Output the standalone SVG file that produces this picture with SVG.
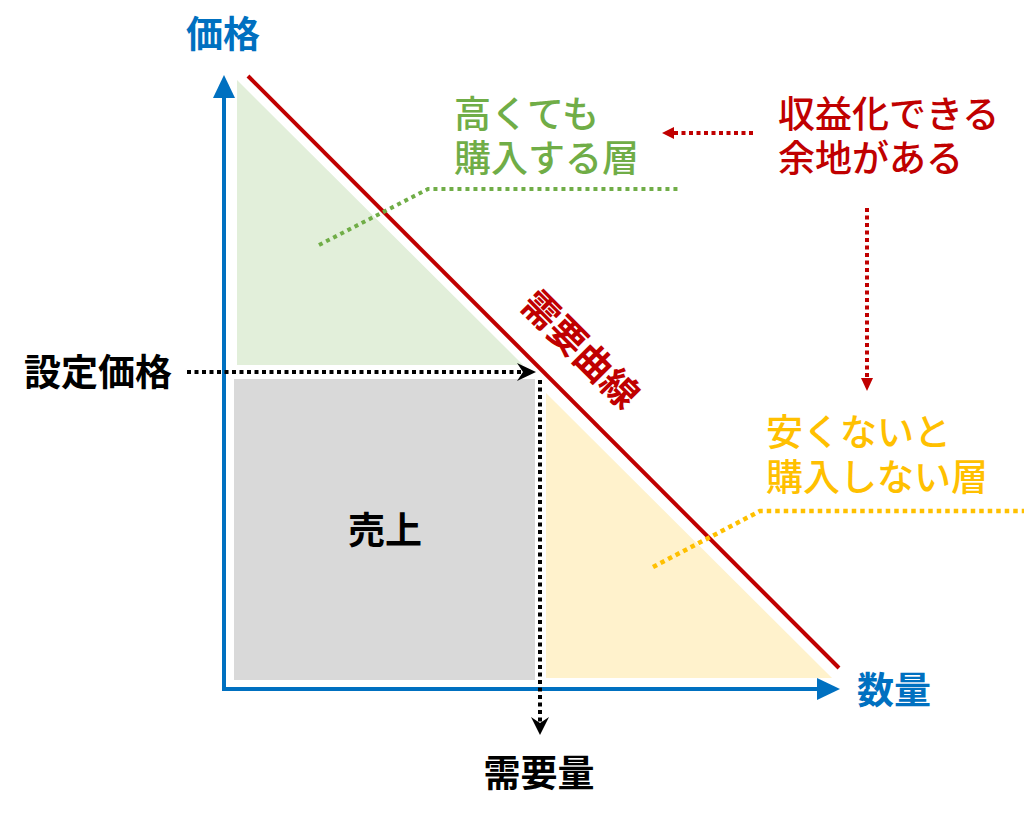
<svg xmlns="http://www.w3.org/2000/svg" width="1024" height="819" viewBox="0 0 1024 819">
<style>
text{font-family:"Noto Sans CJK JP","Noto Sans CJK SC",sans-serif;font-size:37px}
.b{font-weight:700}
.m{font-weight:500}
.blue{fill:#0070c0}
.red{fill:#c00000}
.green{fill:#70ad47}
.yellow{fill:#ffc000}
.blk{fill:#000}
.dotk{stroke:#000;stroke-width:4;stroke-dasharray:4 3.5;fill:none}
.dotr{stroke:#c00000;stroke-width:4;stroke-dasharray:4 3.5;fill:none}
.dotg{stroke:#70ad47;stroke-width:4;stroke-dasharray:4 4;fill:none}
.doty{stroke:#ffc000;stroke-width:4.5;stroke-dasharray:4.5 4;fill:none}
</style>
<rect width="1024" height="819" fill="#fff"/>
<g id="areas">
<polygon id="high-area" points="237,80 237,365 523,365" fill="#e2efda"/>
<rect id="sales-area" x="234" y="379" width="301" height="301" fill="#d9d9d9"/>
<polygon id="low-area" points="546,393 546,678 832,678" fill="#fff2cc"/>
</g>
<g id="axes">
<path d="M224,95 L224,689 L820,689" stroke="#0070c0" stroke-width="4" fill="none"/>
<polygon points="224,75 213,98 235,98" fill="#0070c0"/>
<polygon points="840,689 817,678 817,700" fill="#0070c0"/>
</g>
<g id="demand-curve">
<line x1="248" y1="76" x2="839" y2="668" stroke="#c00000" stroke-width="4"/>
<text class="b red" x="581" y="363" text-anchor="middle" transform="rotate(45 581 349)">需要曲線</text>
</g>
<g id="connectors">
<line class="dotk" x1="187" y1="372" x2="524" y2="372"/>
<path d="M536,372 L517,363 L523,372 L517,381 Z" fill="#000"/>
<line class="dotk" x1="540" y1="380" x2="540" y2="722"/>
<path d="M540,735 L531,717 L540,723 L549,717 Z" fill="#000"/>
<line class="dotr" x1="753" y1="133" x2="672" y2="133"/>
<polygon points="662,133 674,127 674,139" fill="#c00000"/>
<line class="dotr" x1="867" y1="208" x2="867" y2="380"/>
<polygon points="867,391 861,378 873,378" fill="#c00000"/>
<polyline class="dotg" points="319,245 428,189 680,189"/>
<polyline class="doty" points="653,567 760,511 1024,511"/>
</g>
<g id="labels">
<text class="b blue" x="186" y="48">価格</text>
<text class="b blue" x="857" y="704">数量</text>
<text class="b blk" x="24" y="386">設定価格</text>
<text class="b blk" x="385" y="544" text-anchor="middle">売上</text>
<text class="b blk" x="539" y="787" text-anchor="middle">需要量</text>
<text class="m green" x="454" y="128">高くても</text>
<text class="m green" x="454" y="172">購入する層</text>
<text class="m red" x="778" y="128">収益化できる</text>
<text class="m red" x="778" y="172">余地がある</text>
<text class="m yellow" x="766" y="446">安くないと</text>
<text class="m yellow" x="766" y="491">購入しない層</text>
</g>
</svg>
